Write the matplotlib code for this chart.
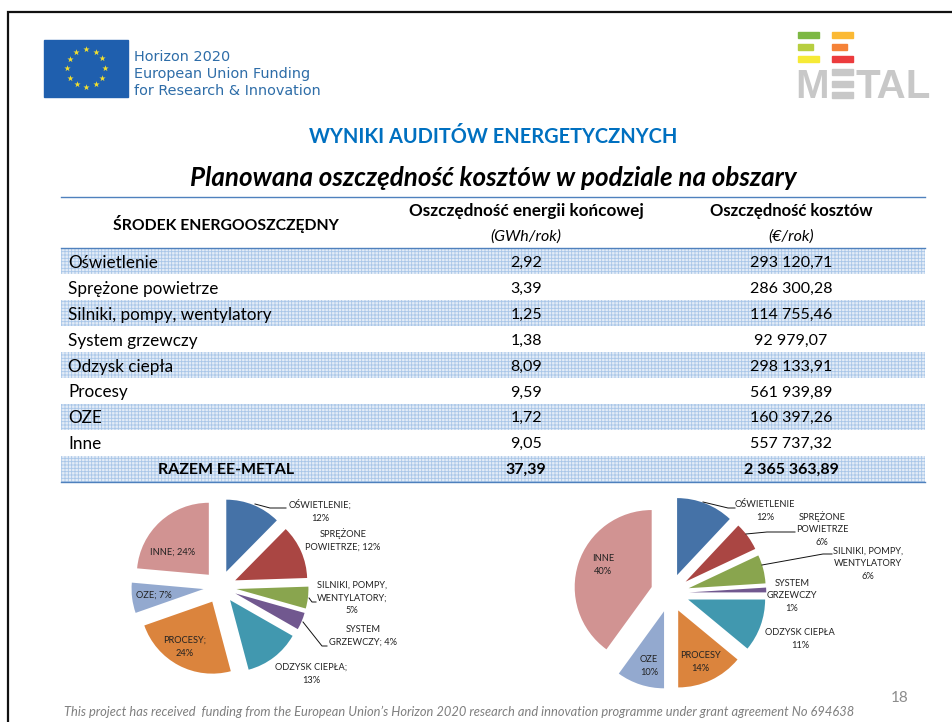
"""
EE-METAL slide: planned cost savings per area, table plus two pies.
"""
import numpy as np
import matplotlib
matplotlib.use("Agg")
import matplotlib.pyplot as plt
from matplotlib.patches import Rectangle

plt.rcParams['font.family'] = ['Lato', 'DejaVu Sans']
plt.rcParams['hatch.linewidth'] = 0.6

W, H = 952, 722

# Table data
measures = ["Oświetlenie", "Sprężone powietrze", "Silniki, pompy, wentylatory",
            "System grzewczy", "Odzysk ciepła", "Procesy", "OZE", "Inne"]
energy_gwh = ["2,92", "3,39", "1,25", "1,38", "8,09", "9,59", "1,72", "9,05"]
cost_eur = ["293 120,71", "286 300,28", "114 755,46", "92 979,07",
            "298 133,91", "561 939,89", "160 397,26", "557 737,32"]
total_label = "RAZEM EE-METAL"
total_energy = "37,39"
total_cost = "2 365 363,89"

# Pie data (percent as printed on the slide)
left_shares = [12.4, 12.1, 4.9, 3.9, 12.6, 23.8, 6.8, 23.6]
right_shares = [12, 6, 6, 1, 11, 14, 10, 40]
slice_colors = ["#4572A7", "#AA4643", "#89A54E", "#71588F",
                "#4198AF", "#DB843D", "#93A9CF", "#D19392"]

left_labels = ["OŚWIETLENIE;\n12%", "SPRĘŻONE\nPOWIETRZE; 12%",
               "SILNIKI, POMPY,\nWENTYLATORY;\n5%", "SYSTEM\nGRZEWCZY; 4%",
               "ODZYSK CIEPŁA;\n13%", "PROCESY;\n24%", "OZE; 7%", "INNE; 24%"]
right_labels = ["OŚWIETLENIE\n12%", "SPRĘŻONE\nPOWIETRZE\n6%",
                "SILNIKI, POMPY,\nWENTYLATORY\n6%", "SYSTEM\nGRZEWCZY\n1%",
                "ODZYSK CIEPŁA\n11%", "PROCESY\n14%", "OZE\n10%", "INNE\n40%"]
left_label_pos = [(320, 511), (343, 540), (352, 598), (363, 636),
                  (311, 674), (185, 647), (154, 595), (173, 552)]
right_label_pos = [(765, 511), (822, 529), (868, 564), (792, 596),
                   (800, 639), (700, 662), (649, 666), (603, 565)]
leaders = [[(255, 504), (270, 508), (286, 508)],
           [(309, 598), (312, 602), (316, 602)],
           [(303, 622), (322, 646), (327, 646)],
           [(703, 502), (728, 508), (735, 508)],
           [(746, 534), (767, 532), (795, 532)],
           [(762, 565), (823, 554), (832, 554)]]

fig = plt.figure(figsize=(W / 100, H / 100), dpi=100, facecolor="white")
ax = fig.add_axes([0, 0, 1, 1], zorder=5)
ax.set_xlim(0, W)
ax.set_ylim(H, 0)
ax.axis('off')
ax.patch.set_alpha(0)


def draw_pie(values, cx, cy, radius, explode):
    """One exploded pie, placed by pixel centre and radius"""
    span = radius * 1.6
    pie_ax = fig.add_axes([(cx - span) / W, 1 - (cy + span) / H,
                           2 * span / W, 2 * span / H], zorder=2)
    pie_ax.pie(values, colors=slice_colors, startangle=90, counterclock=False,
               explode=[explode] * len(values), radius=1.0, normalize=True)
    pie_ax.set_xlim(-1.6, 1.6)
    pie_ax.set_ylim(-1.6, 1.6)


# Slide frame
ax.plot([8, 8, W], [H, 12, 12], color="#111111", lw=1.6, solid_joinstyle='miter')

# EU flag
ax.add_patch(Rectangle((44, 40), 84, 57, color="#1F5FAE"))
star_angles = np.deg2rad(np.arange(0, 360, 30))
ax.scatter(86 + 19 * np.cos(star_angles), 68 + 19 * np.sin(star_angles),
           marker='*', s=22, color="#F5E12E", linewidths=0)
for y, line in zip([57, 74, 91], ["Horizon 2020", "European Union Funding",
                                  "for Research & Innovation"]):
    ax.text(134, y, line, family='DejaVu Sans', fontsize=10.4, color="#2E6DA8",
            va='center', ha='left')

# EE-METAL logo
for x, w1, cols in [(798, 21, ["#7DB843", "#B7CE3F", "#F6EA36"]),
                    (832, 21, ["#FBB934", "#F58238", "#EC3B3D"])]:
    for y, h_w, c in zip([32, 44, 56], [w1, w1 - 6, w1], cols):
        ax.add_patch(Rectangle((x, y), h_w, 6, color=c))
ax.text(795, 98, "M", family='Liberation Sans', fontsize=29, fontweight='bold',
        color="#C8C8C8", va='baseline')
for y in [69, 81, 92]:
    ax.add_patch(Rectangle((832, y), 21, 6, color="#C8C8C8"))
ax.text(855, 98, "TAL", family='Liberation Sans', fontsize=29, fontweight='bold',
        color="#C8C8C8", va='baseline')

# Titles
ax.text(493, 137, "WYNIKI AUDITÓW ENERGETYCZNYCH", fontsize=14.4, fontweight='bold',
        color="#0070C0", ha='center', va='center')
ax.text(493, 178, "Planowana oszczędność kosztów w podziale na obszary", fontsize=18.7,
        fontstyle='italic', fontweight='bold', color="black", ha='center', va='center')

# Table header
ax.plot([61, 925], [197, 197], color="#4F81BD", lw=1)
ax.text(226, 224, "ŚRODEK ENERGOOSZCZĘDNY", fontsize=11.3, fontweight='bold',
        ha='center', va='center')
ax.text(526, 211, "Oszczędność energii końcowej", fontsize=12.3, fontweight='bold',
        ha='center', va='center')
ax.text(526, 237, "(GWh/rok)", fontsize=11.5, fontstyle='italic', ha='center', va='center')
ax.text(791, 211, "Oszczędność kosztów", fontsize=12, fontweight='bold',
        ha='center', va='center')
ax.text(791, 237, "(€/rok)", fontsize=11.5, fontstyle='italic', ha='center', va='center')
ax.plot([61, 925], [248, 248], color="#4F81BD", lw=1)

# Table rows, every other one shaded
row_h = 25.9
for i in range(9):
    top = 248.5 + i * row_h
    mid = top + row_h / 2 + 1.5
    if i % 2 == 0:
        ax.add_patch(Rectangle((61, top), 864, row_h, facecolor="#E3ECF7",
                               edgecolor="#A9C6E8", hatch="+++++", lw=0))
    if i < 8:
        ax.text(68, mid, measures[i], fontsize=12.3, ha='left', va='center')
        ax.text(526, mid, energy_gwh[i], fontsize=11.5, ha='center', va='center')
        ax.text(791, mid, cost_eur[i], fontsize=11.5, ha='center', va='center')
    else:
        ax.text(226, mid, total_label, fontsize=11.5, fontweight='bold', ha='center', va='center')
        ax.text(526, mid, total_energy, fontsize=11.5, fontweight='bold', ha='center', va='center')
        ax.text(791, mid, total_cost, fontsize=11.5, fontweight='bold', ha='center', va='center')
ax.plot([61, 925], [481.5, 481.5], color="#4F81BD", lw=1)

# Pies
draw_pie(left_shares, 220, 587, 72, 0.23)
draw_pie(right_shares, 670, 593, 77, 0.25)

for labels, positions in [(left_labels, left_label_pos), (right_labels, right_label_pos)]:
    for label, (x, y) in zip(labels, positions):
        ax.text(x, y, label, fontsize=6.7, color="#222222", ha='center', va='center',
                linespacing=1.55)
for pts in leaders:
    ax.plot([p[0] for p in pts], [p[1] for p in pts], color="#111111", lw=0.7)

# Footer
ax.text(64, 712, "This project has received  funding from the European Union’s Horizon 2020 "
        "research and innovation programme under grant agreement No 694638",
        fontsize=9.3, fontstyle='italic', color="#7F7F7F", ha='left', va='center')
ax.text(900, 698, "18", fontsize=11, color="#8C8C8C", ha='center', va='center')

plt.savefig("out.png", dpi=100)
